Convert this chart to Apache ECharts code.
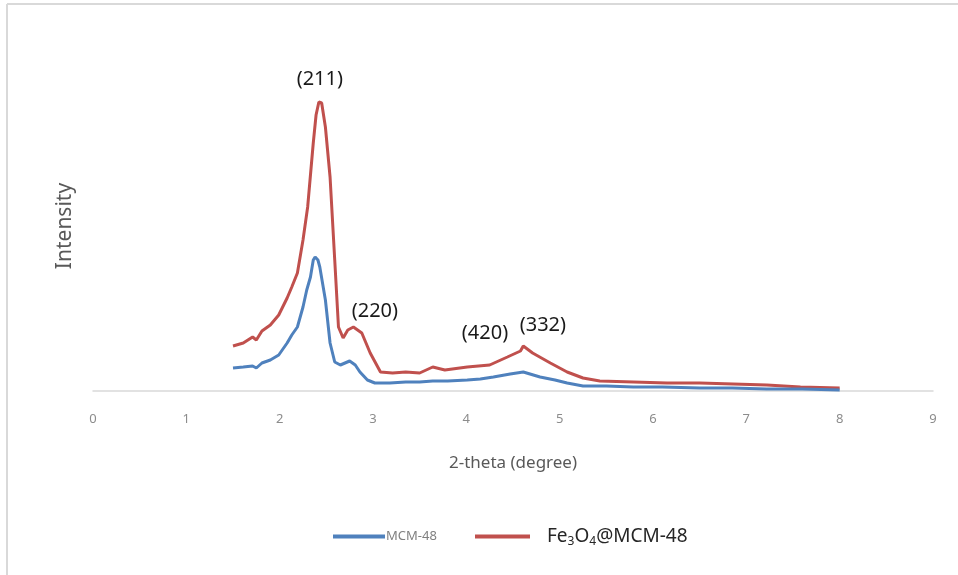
<!DOCTYPE html>
<html>
<head>
<meta charset="utf-8">
<script src="https://cdn.jsdelivr.net/npm/echarts@6/dist/echarts.min.js"></script>
<style>
  html, body { margin: 0; padding: 0; background: #fff; }
  #chart { width: 958px; height: 575px; }
</style>
</head>
<body>
<div id="chart"></div>
<script>
// XRD patterns, intensity in arbitrary units
const mcmTheta = [1.50, 1.61, 1.71, 1.75, 1.81, 1.90, 1.99, 2.08, 2.13, 2.19, 2.25, 2.29, 2.33, 2.36, 2.38, 2.41, 2.43, 2.49, 2.54, 2.59, 2.65, 2.70, 2.75, 2.81, 2.86, 2.94, 3.02, 3.18, 3.35, 3.50, 3.64, 3.80, 4.01, 4.15, 4.29, 4.47, 4.61, 4.79, 4.95, 5.08, 5.25, 5.50, 5.79, 6.10, 6.50, 6.85, 7.22, 7.60, 8.00];
const mcmInt = [23, 24, 25, 23, 28, 31, 36, 48, 56, 64, 84, 101, 114, 131, 134, 131, 124, 91, 48, 29, 26, 28, 30, 26, 19, 11, 8, 8, 9, 9, 10, 10, 11, 12, 14, 17, 19, 14, 11, 8, 5, 5, 4, 4, 3, 3, 2, 2, 1];

const feTheta = [1.50, 1.61, 1.71, 1.75, 1.81, 1.90, 1.99, 2.08, 2.13, 2.19, 2.25, 2.30, 2.36, 2.39, 2.42, 2.45, 2.49, 2.54, 2.59, 2.63, 2.68, 2.73, 2.79, 2.88, 2.97, 3.08, 3.21, 3.35, 3.50, 3.64, 3.77, 4.01, 4.25, 4.44, 4.58, 4.61, 4.71, 4.90, 5.08, 5.25, 5.43, 5.79, 6.15, 6.50, 6.86, 7.22, 7.58, 8.00];
const feInt = [45, 48, 54, 51, 60, 66, 76, 93, 104, 118, 151, 184, 248, 276, 289, 288, 264, 214, 131, 64, 53, 61, 64, 58, 38, 19, 18, 19, 18, 24, 21, 24, 26, 34, 40, 45, 38, 28, 19, 13, 10, 9, 8, 8, 7, 6, 4, 3];

const xTicks = [0, 1, 2, 3, 4, 5, 6, 7, 8, 9];

// reflection labels: [text, 2-theta, intensity]
const peakLabels = [['(211)', 2.43, 312], ['(220)', 3.02, 80], ['(420)', 4.20, 58], ['(332)', 4.82, 66]];

function zip(xs, ys) {
    return xs.map((x, i) => [x, ys[i]]);
}

const chart = echarts.init(document.getElementById('chart'));

const option = {
    backgroundColor: '#fff',
    animation: false,
    textStyle: { fontFamily: 'Noto Sans' },
    grid: { left: 93, right: 25, top: 61, bottom: 184 },
    graphic: [
        { type: 'line', shape: { x1: 7, y1: 4, x2: 958, y2: 4 }, style: { stroke: '#d9d9d9', lineWidth: 2 } },
        { type: 'line', shape: { x1: 7, y1: 4, x2: 7, y2: 575 }, style: { stroke: '#d9d9d9', lineWidth: 2 } }
    ],
    xAxis: {
        type: 'value',
        min: xTicks[0],
        max: xTicks[xTicks.length - 1],
        interval: 1,
        name: '2-theta (degree)',
        nameLocation: 'middle',
        nameGap: 64,
        nameTextStyle: { color: '#595959', fontSize: 17 },
        axisLine: { lineStyle: { color: '#d9d9d9', width: 1.5 } },
        axisTick: { show: false },
        splitLine: { show: false },
        axisLabel: { color: '#8c8c8c', fontSize: 13, margin: 22 }
    },
    yAxis: {
        type: 'value',
        min: 0,
        max: 330,
        name: 'Intensity',
        nameLocation: 'middle',
        nameGap: 17,
        nameTextStyle: { color: '#595959', fontSize: 21 },
        axisLine: { show: false },
        axisTick: { show: false },
        axisLabel: { show: false },
        splitLine: { show: false }
    },
    legend: [
        {
            data: ['MCM-48'],
            left: 333,
            top: 530,
            padding: 0,
            icon: 'rect',
            itemWidth: 52,
            itemHeight: 4,
            itemGap: 0,
            textStyle: { color: '#808080', fontSize: 13, padding: [0, 0, 0, -4] }
        },
        {
            data: ['Fe3O4@MCM-48'],
            left: 475,
            top: 527,
            padding: 0,
            icon: 'rect',
            itemWidth: 55,
            itemHeight: 4,
            formatter: () => '{a|Fe}{s|3}{a|O}{s|4}{a|@MCM-48}',
            textStyle: {
                padding: [0, 0, 0, 12],
                rich: {
                    a: { fontSize: 19, color: '#262626', fontFamily: 'Noto Sans' },
                    s: { fontSize: 12, color: '#262626', fontFamily: 'Noto Sans', padding: [10, 0, 0, 0] }
                }
            }
        }
    ],
    series: [
        {
            name: 'MCM-48',
            type: 'line',
            data: zip(mcmTheta, mcmInt),
            showSymbol: false,
            symbol: 'none',
            lineStyle: { color: '#4f81bd', width: 3 },
            itemStyle: { color: '#4f81bd' },
            z: 3
        },
        {
            name: 'Fe3O4@MCM-48',
            type: 'line',
            data: zip(feTheta, feInt),
            showSymbol: false,
            symbol: 'none',
            lineStyle: { color: '#c0504d', width: 3 },
            itemStyle: { color: '#c0504d' },
            z: 2,
            markPoint: {
                symbol: 'circle',
                symbolSize: 0,
                silent: true,
                label: {
                    show: true,
                    position: 'inside',
                    color: '#1a1a1a',
                    fontSize: 20,
                    formatter: p => p.name
                },
                data: peakLabels.map(d => ({ name: d[0], coord: [d[1], d[2]] }))
            }
        }
    ]
};

chart.setOption(option);
</script>
</body>
</html>
